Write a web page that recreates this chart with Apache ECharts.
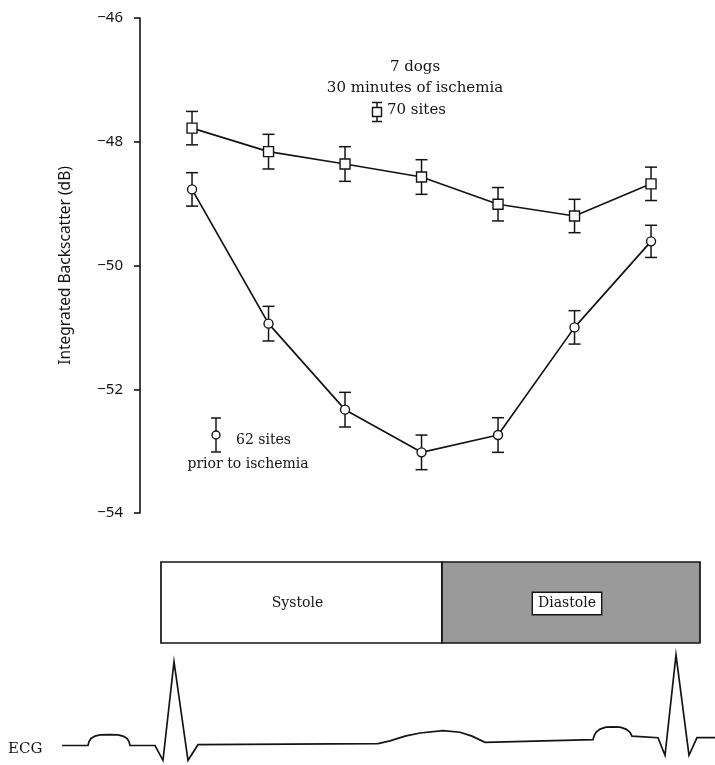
<!DOCTYPE html>
<html><head><meta charset="utf-8">
<script src="https://cdn.jsdelivr.net/npm/echarts@6/dist/echarts.min.js"></script>
<style>html,body{margin:0;padding:0;background:#fff}#c{width:715px;height:765px}</style>
</head><body><div id="c"></div>
<script>
// ---- data ----
const timePoints = [0, 1, 2, 3, 4, 5, 6];
const ischemiaMean = [-47.78, -48.16, -48.36, -48.57, -49.01, -49.20, -48.68];
const ischemiaErr  = [0.27, 0.28, 0.28, 0.28, 0.27, 0.27, 0.27];
const priorMean = [-48.77, -50.94, -52.33, -53.02, -52.74, -51.00, -49.61];
const priorErr  = [0.27, 0.28, 0.28, 0.28, 0.28, 0.27, 0.26];
const yTicks = [-54, -52, -50, -48, -46];
const phaseNames = ['Systole', 'Diastole'];
const phaseStart = [161, 442];
const phaseEnd   = [442, 700];
const ecgTime = [62, 88, 89, 91, 95, 100, 109, 118, 123, 127, 129, 130, 155, 163, 174, 188, 198, 378, 390, 405, 420, 443, 460, 472, 485, 593, 594, 596, 600, 606, 613, 620, 626, 630, 632, 633, 658, 665, 676, 689, 697, 715];
const ecgAmp  = [0, 0, 0.05, 0.09, 0.12, 0.135, 0.14, 0.135, 0.12, 0.09, 0.05, 0, 0, -0.19, 1.075, -0.19, 0.01, 0.025, 0.06, 0.12, 0.16, 0.19, 0.17, 0.12, 0.04, 0.075, 0.12, 0.17, 0.21, 0.235, 0.24, 0.235, 0.21, 0.17, 0.12, 0.1, 0.1, -0.125, 1.16, -0.125, 0.1, 0.1];

const INK = '#141414';
const SERIF = '"DejaVu Serif", "Liberation Serif", serif';
const SANS = '"Noto Sans", "DejaVu Sans", sans-serif';

function errRender(params, api) {
  const x = api.value(0), lo = api.value(1), hi = api.value(2);
  const a = api.coord([x, hi]), b = api.coord([x, lo]);
  const w = 6;
  const st = { stroke: INK, lineWidth: 1.5, fill: null };
  return { type: 'group', children: [
    { type: 'line', shape: { x1: a[0], y1: a[1], x2: b[0], y2: b[1] }, style: st },
    { type: 'line', shape: { x1: a[0] - w, y1: a[1], x2: a[0] + w, y2: a[1] }, style: st },
    { type: 'line', shape: { x1: b[0] - w, y1: b[1], x2: b[0] + w, y2: b[1] }, style: st }
  ]};
}

function phaseRender(params, api) {
  const s = api.coord([api.value(0), 0]);
  const e = api.coord([api.value(1), 0]);
  const h = api.size([0, 1])[1];
  const i = params.dataIndex;
  const isDia = i === 1;
  return { type: 'group', children: [
    { type: 'rect', shape: { x: s[0], y: s[1] - h / 2, width: e[0] - s[0], height: h },
      style: { fill: isDia ? '#9a9a9a' : '#ffffff', stroke: INK, lineWidth: 1.7 } },
    { type: 'text', style: {
        text: phaseNames[i], x: (s[0] + e[0]) / 2 - 4, y: s[1] + 1, align: 'center', verticalAlign: 'middle',
        font: '14px ' + SERIF, fill: INK,
        backgroundColor: isDia ? '#ffffff' : null, borderColor: isDia ? INK : null, borderWidth: isDia ? 1.4 : 0,
        padding: isDia ? [4, 5, 3, 5] : 0 } }
  ]};
}

function errKey(cx, cy, half, symbol) {
  const st = { stroke: INK, lineWidth: 1.5, fill: null };
  const ch = [
    { type: 'line', shape: { x1: cx, y1: cy - half, x2: cx, y2: cy + half }, style: st },
    { type: 'line', shape: { x1: cx - 5, y1: cy - half, x2: cx + 5, y2: cy - half }, style: st },
    { type: 'line', shape: { x1: cx - 5, y1: cy + half, x2: cx + 5, y2: cy + half }, style: st }
  ];
  if (symbol === 'rect') ch.push({ type: 'rect', shape: { x: cx - 4.5, y: cy - 4.5, width: 9, height: 9 }, style: { stroke: INK, lineWidth: 1.4, fill: '#fff' } });
  else ch.push({ type: 'circle', shape: { cx: cx, cy: cy, r: 4 }, style: { stroke: INK, lineWidth: 1.4, fill: '#fff' } });
  return { type: 'group', children: ch, z: 50 };
}

const chart = echarts.init(document.getElementById('c'), null, { renderer: 'canvas' });
chart.setOption({
  backgroundColor: '#ffffff',
  animation: false,
  grid: [
    { left: 140, top: 18, width: 560, height: 495 },
    { left: 0, top: 562, width: 715, height: 81 },
    { left: 0, top: 648, width: 715, height: 120 }
  ],
  xAxis: [
    { gridIndex: 0, type: 'value', min: -0.68, max: 6.64, show: false },
    { gridIndex: 1, type: 'value', min: 0, max: 715, show: false },
    { gridIndex: 2, type: 'value', min: 0, max: 715, show: false }
  ],
  yAxis: [
    { gridIndex: 0, type: 'value', min: yTicks[0], max: yTicks[yTicks.length - 1], interval: 2,
      name: 'Integrated Backscatter (dB)', nameLocation: 'middle', nameGap: 66,
      nameTextStyle: { fontFamily: SANS, fontSize: 15.5, color: INK },
      axisLine: { show: true, onZero: false, lineStyle: { color: INK, width: 1.6 } },
      axisTick: { show: true, length: 6, lineStyle: { color: INK, width: 1.6 } },
      axisLabel: { margin: 17, fontFamily: SANS, fontSize: 15, color: INK, formatter: v => String(v).replace('-', '\u2212') },
      splitLine: { show: false } },
    { gridIndex: 1, type: 'category', data: ['cycle'], show: false },
    { gridIndex: 2, type: 'value', min: -0.25, max: 1.25, show: false }
  ],
  series: [
    { type: 'line', xAxisIndex: 0, yAxisIndex: 0, data: timePoints.map((t, i) => [t, ischemiaMean[i]]),
      symbol: 'rect', symbolSize: 10, showAllSymbol: true, z: 5,
      itemStyle: { color: '#fff', borderColor: INK, borderWidth: 1.4 },
      lineStyle: { color: INK, width: 1.7 } },
    { type: 'line', xAxisIndex: 0, yAxisIndex: 0, data: timePoints.map((t, i) => [t, priorMean[i]]),
      symbol: 'circle', symbolSize: 9, showAllSymbol: true, z: 5,
      itemStyle: { color: '#fff', borderColor: INK, borderWidth: 1.4 },
      lineStyle: { color: INK, width: 1.7 } },
    { type: 'custom', xAxisIndex: 0, yAxisIndex: 0, renderItem: errRender, z: 4,
      data: timePoints.map((t, i) => [t, ischemiaMean[i] - ischemiaErr[i], ischemiaMean[i] + ischemiaErr[i]]) },
    { type: 'custom', xAxisIndex: 0, yAxisIndex: 0, renderItem: errRender, z: 4,
      data: timePoints.map((t, i) => [t, priorMean[i] - priorErr[i], priorMean[i] + priorErr[i]]) },
    { type: 'custom', xAxisIndex: 1, yAxisIndex: 1, renderItem: phaseRender,
      data: phaseNames.map((n, i) => [phaseStart[i], phaseEnd[i]]) },
    { type: 'line', xAxisIndex: 2, yAxisIndex: 2, data: ecgTime.map((t, i) => [t, ecgAmp[i]]),
      symbol: 'none', lineStyle: { color: INK, width: 1.7, join: 'miter' } }
  ],
  graphic: [
    { type: 'text', x: 415, y: 67, style: { text: '7 dogs', font: '15px ' + SERIF, fill: INK, align: 'center', verticalAlign: 'middle' } },
    { type: 'text', x: 415, y: 88, style: { text: '30 minutes of ischemia', font: '15px ' + SERIF, fill: INK, align: 'center', verticalAlign: 'middle' } },
    { type: 'text', x: 387, y: 110, style: { text: '70 sites', font: '15px ' + SERIF, fill: INK, align: 'left', verticalAlign: 'middle' } },
    errKey(377, 112, 9.5, 'rect'),
    { type: 'text', x: 236, y: 440, style: { text: '62 sites', font: '14px ' + SERIF, fill: INK, align: 'left', verticalAlign: 'middle' } },
    { type: 'text', x: 248, y: 464, style: { text: 'prior to ischemia', font: '14px ' + SERIF, fill: INK, align: 'center', verticalAlign: 'middle' } },
    errKey(216, 435, 17, 'circle'),
    { type: 'text', x: 8, y: 749, style: { text: 'ECG', font: '15px ' + SERIF, fill: INK, align: 'left', verticalAlign: 'middle' } }
  ]
});
</script>
</body></html>
